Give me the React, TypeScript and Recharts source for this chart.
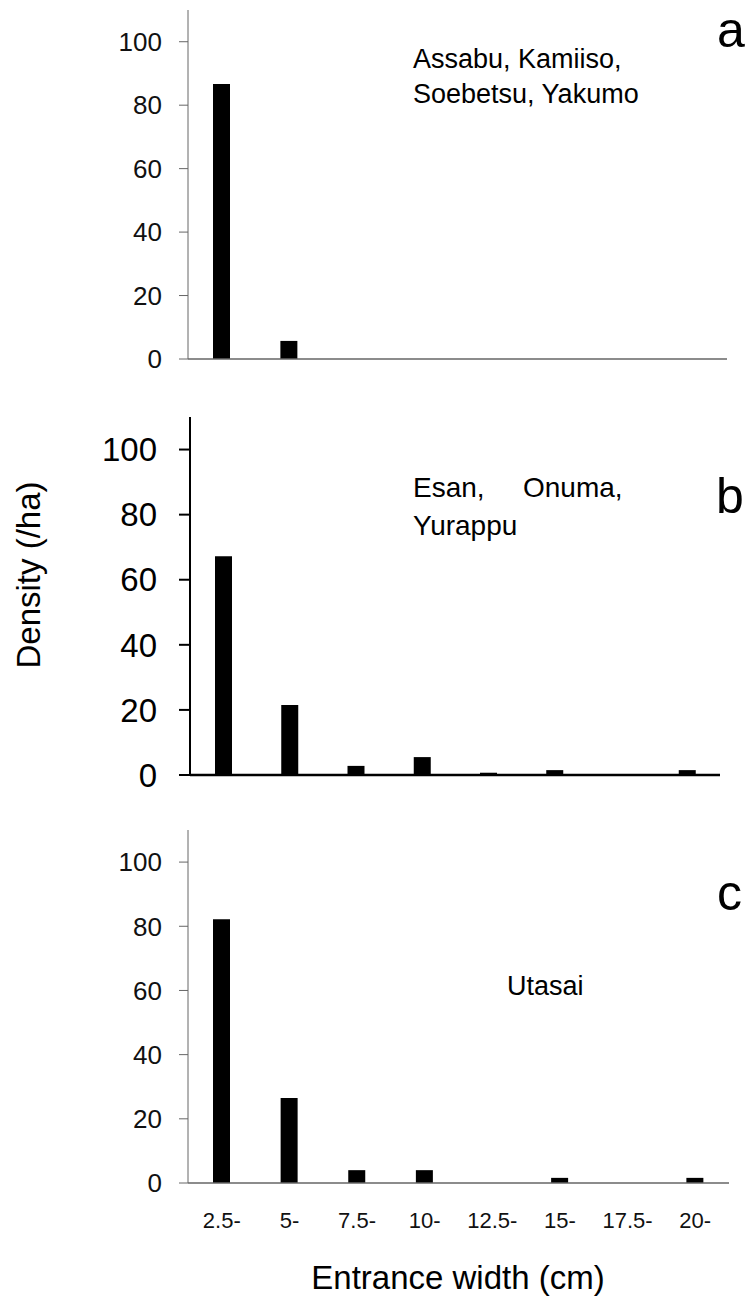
import { BarChart, Bar, XAxis, YAxis } from "recharts";

const bins = ["2.5-", "5-", "7.5-", "10-", "12.5-", "15-", "17.5-", "20-"];
const densityA = [86.7, 5.7, 0, 0, 0, 0, 0, 0];
const densityB = [67.2, 21.5, 2.8, 5.5, 0.7, 1.5, 0, 1.5];
const densityC = [82.2, 26.5, 4.0, 4.0, 0, 1.6, 0, 1.6];
const yTicks = [0, 20, 40, 60, 80, 100];

const font = "'Liberation Sans', Arial, sans-serif";

const toRows = (values: number[]) => bins.map((bin, i) => ({ bin, value: values[i] }));

const App = () => {
  return (
    <div style={{ position: "absolute", left: 0, top: 0, width: 752, height: 1299, background: "#fff", fontFamily: font }}>
      {/* panel a */}
      <div style={{ position: "absolute", left: 0, top: 0 }}>
        <BarChart width={752} height={380} data={toRows(densityA)} margin={{ top: 10, right: 25, left: 0, bottom: 0 }}>
          <XAxis dataKey="bin" height={21} tick={false} tickLine={false} axisLine={{ stroke: "#666", strokeWidth: 1.5 }} />
          <YAxis
            domain={[0, 110]}
            ticks={yTicks}
            interval={0}
            width={188}
            tickSize={9}
            tickMargin={17}
            tick={{ fontSize: 26, fill: "#111", fontFamily: font }}
            axisLine={{ stroke: "#666" }}
            tickLine={{ stroke: "#666" }}
          />
          <Bar dataKey="value" fill="#000" barSize={17} isAnimationActive={false} />
        </BarChart>
      </div>

      {/* panel b */}
      <div style={{ position: "absolute", left: 0, top: 390 }}>
        <BarChart width={752} height={412} data={toRows(densityB)} margin={{ top: 27, right: 32, left: 0, bottom: 0 }}>
          <XAxis dataKey="bin" height={27} tick={false} tickLine={false} axisLine={{ stroke: "#000", strokeWidth: 2.5 }} />
          <YAxis
            domain={[0, 110]}
            ticks={yTicks}
            interval={0}
            width={190}
            tickSize={11}
            tickMargin={22}
            tick={{ fontSize: 33, fill: "#000", fontFamily: font }}
            axisLine={{ stroke: "#000", strokeWidth: 2 }}
            tickLine={{ stroke: "#000", strokeWidth: 2 }}
          />
          <Bar dataKey="value" fill="#000" barSize={17} isAnimationActive={false} />
        </BarChart>
      </div>

      {/* panel c */}
      <div style={{ position: "absolute", left: 0, top: 810 }}>
        <BarChart width={752} height={489} data={toRows(densityC)} margin={{ top: 20, right: 23, left: 0, bottom: 0 }}>
          <XAxis
            dataKey="bin"
            height={116}
            tickLine={false}
            tickSize={0}
            tickMargin={29}
            interval={0}
            tick={{ fontSize: 22, fill: "#111", fontFamily: font }}
            axisLine={{ stroke: "#666", strokeWidth: 1.5 }}
          />
          <YAxis
            domain={[0, 110]}
            ticks={yTicks}
            interval={0}
            width={188}
            tickSize={9}
            tickMargin={17}
            tick={{ fontSize: 26, fill: "#111", fontFamily: font }}
            axisLine={{ stroke: "#666" }}
            tickLine={{ stroke: "#666" }}
          />
          <Bar dataKey="value" fill="#000" barSize={17} isAnimationActive={false} />
        </BarChart>
      </div>

      {/* annotations */}
      <svg width={752} height={1299} style={{ position: "absolute", left: 0, top: 0, pointerEvents: "none" }} fontFamily={font} fill="#000">
        <text x={413} y={68} fontSize={27}>Assabu, Kamiiso,</text>
        <text x={413} y={103} fontSize={27}>Soebetsu, Yakumo</text>
        <text x={717} y={47} fontSize={50}>a</text>

        <text x={413} y={497} fontSize={28}>Esan,</text>
        <text x={523} y={497} fontSize={28}>Onuma,</text>
        <text x={413} y={535} fontSize={28}>Yurappu</text>
        <text x={716} y={513} fontSize={50}>b</text>

        <text x={717} y={910} fontSize={50}>c</text>
        <text x={507} y={995} fontSize={27}>Utasai</text>

        <text x={40} y={575} fontSize={33} textAnchor="middle" transform="rotate(-90, 40, 575)">Density (/ha)</text>
        <text x={458} y={1289} fontSize={33} textAnchor="middle">Entrance width (cm)</text>
      </svg>
    </div>
  );
};

export default App;
